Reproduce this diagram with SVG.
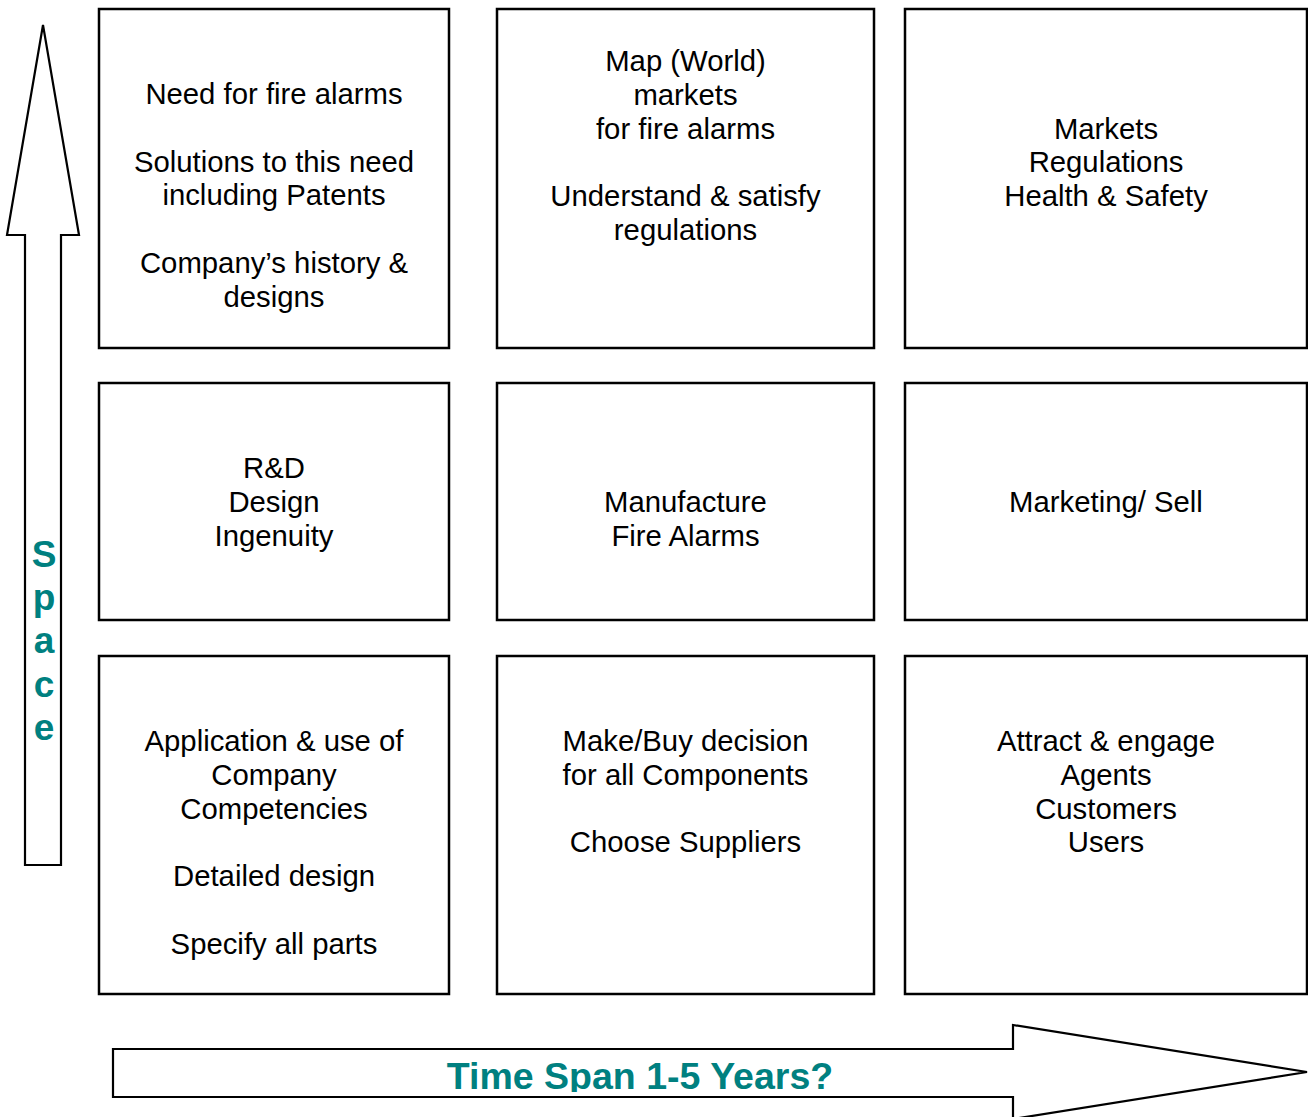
<svg xmlns="http://www.w3.org/2000/svg" width="1308" height="1117" viewBox="0 0 1308 1117">
  <style>
    .box { fill: #ffffff; stroke: #000000; stroke-width: 2.5; }
    .arrow { fill: #ffffff; stroke: #000000; stroke-width: 2.2; stroke-linejoin: miter; }
    .t { font-family: "Liberation Sans", Arial, sans-serif; font-size: 29.3px; fill: #000000; text-anchor: middle; }
    .axis { font-family: "Liberation Sans", Arial, sans-serif; font-weight: bold; fill: #008080; text-anchor: middle; }
  </style>
  <defs>
    <clipPath id="timeClip">
      <rect x="113" y="1049" width="900" height="43"/>
    </clipPath>
  </defs>
  <rect width="1308" height="1117" fill="#ffffff"/>

  <!-- axis arrows -->
  <g id="connectors">
    <polygon class="arrow" points="43,25 79,235 61,235 61,865 25,865 25,235 7,235"/>
    <polygon class="arrow" points="113,1049 1013,1049 1013,1025 1307,1072 1013,1119 1013,1097 113,1097"/>
  </g>

  <g id="space-label" class="axis" font-size="37">
    <text x="44" y="567">S</text>
    <text x="44" y="610">p</text>
    <text x="44" y="653">a</text>
    <text x="44" y="697">c</text>
    <text x="44" y="740">e</text>
  </g>

  <g id="time-label" clip-path="url(#timeClip)">
    <text class="axis" font-size="37.5" x="640" y="1089">Time Span 1-5 Years?</text>
  </g>

  <!-- row 1 -->
  <g id="need">
    <rect class="box" x="99" y="9" width="350" height="339"/>
    <text class="t" x="274" y="104">Need for fire alarms</text>
    <text class="t" x="274" y="171.5">Solutions to this need</text>
    <text class="t" x="274" y="205.3">including Patents</text>
    <text class="t" x="274" y="272.8">Company’s history &amp;</text>
    <text class="t" x="274" y="306.5">designs</text>
  </g>
  <g id="markets-map">
    <rect class="box" x="497" y="9" width="377" height="339"/>
    <text class="t" x="685.5" y="71">Map (World)</text>
    <text class="t" x="685.5" y="104.8">markets</text>
    <text class="t" x="685.5" y="138.5">for fire alarms</text>
    <text class="t" x="685.5" y="206">Understand &amp; satisfy</text>
    <text class="t" x="685.5" y="239.8">regulations</text>
  </g>
  <g id="markets-regs">
    <rect class="box" x="905" y="9" width="402" height="339"/>
    <text class="t" x="1106" y="138.5">Markets</text>
    <text class="t" x="1106" y="172.3">Regulations</text>
    <text class="t" x="1106" y="206">Health &amp; Safety</text>
  </g>

  <!-- row 2 -->
  <g id="rnd">
    <rect class="box" x="99" y="383" width="350" height="237"/>
    <text class="t" x="274" y="478">R&amp;D</text>
    <text class="t" x="274" y="511.8">Design</text>
    <text class="t" x="274" y="545.5">Ingenuity</text>
  </g>
  <g id="manufacture">
    <rect class="box" x="497" y="383" width="377" height="237"/>
    <text class="t" x="685.5" y="511.8">Manufacture</text>
    <text class="t" x="685.5" y="545.5">Fire Alarms</text>
  </g>
  <g id="marketing">
    <rect class="box" x="905" y="383" width="402" height="237"/>
    <text class="t" x="1106" y="511.8">Marketing/ Sell</text>
  </g>

  <!-- row 3 -->
  <g id="application">
    <rect class="box" x="99" y="656" width="350" height="338"/>
    <text class="t" x="274" y="751">Application &amp; use of</text>
    <text class="t" x="274" y="784.8">Company</text>
    <text class="t" x="274" y="818.5">Competencies</text>
    <text class="t" x="274" y="886">Detailed design</text>
    <text class="t" x="274" y="953.5">Specify all parts</text>
  </g>
  <g id="make-buy">
    <rect class="box" x="497" y="656" width="377" height="338"/>
    <text class="t" x="685.5" y="751">Make/Buy decision</text>
    <text class="t" x="685.5" y="784.8">for all Components</text>
    <text class="t" x="685.5" y="852.3">Choose Suppliers</text>
  </g>
  <g id="attract">
    <rect class="box" x="905" y="656" width="402" height="338"/>
    <text class="t" x="1106" y="751">Attract &amp; engage</text>
    <text class="t" x="1106" y="784.8">Agents</text>
    <text class="t" x="1106" y="818.5">Customers</text>
    <text class="t" x="1106" y="852.3">Users</text>
  </g>
</svg>
